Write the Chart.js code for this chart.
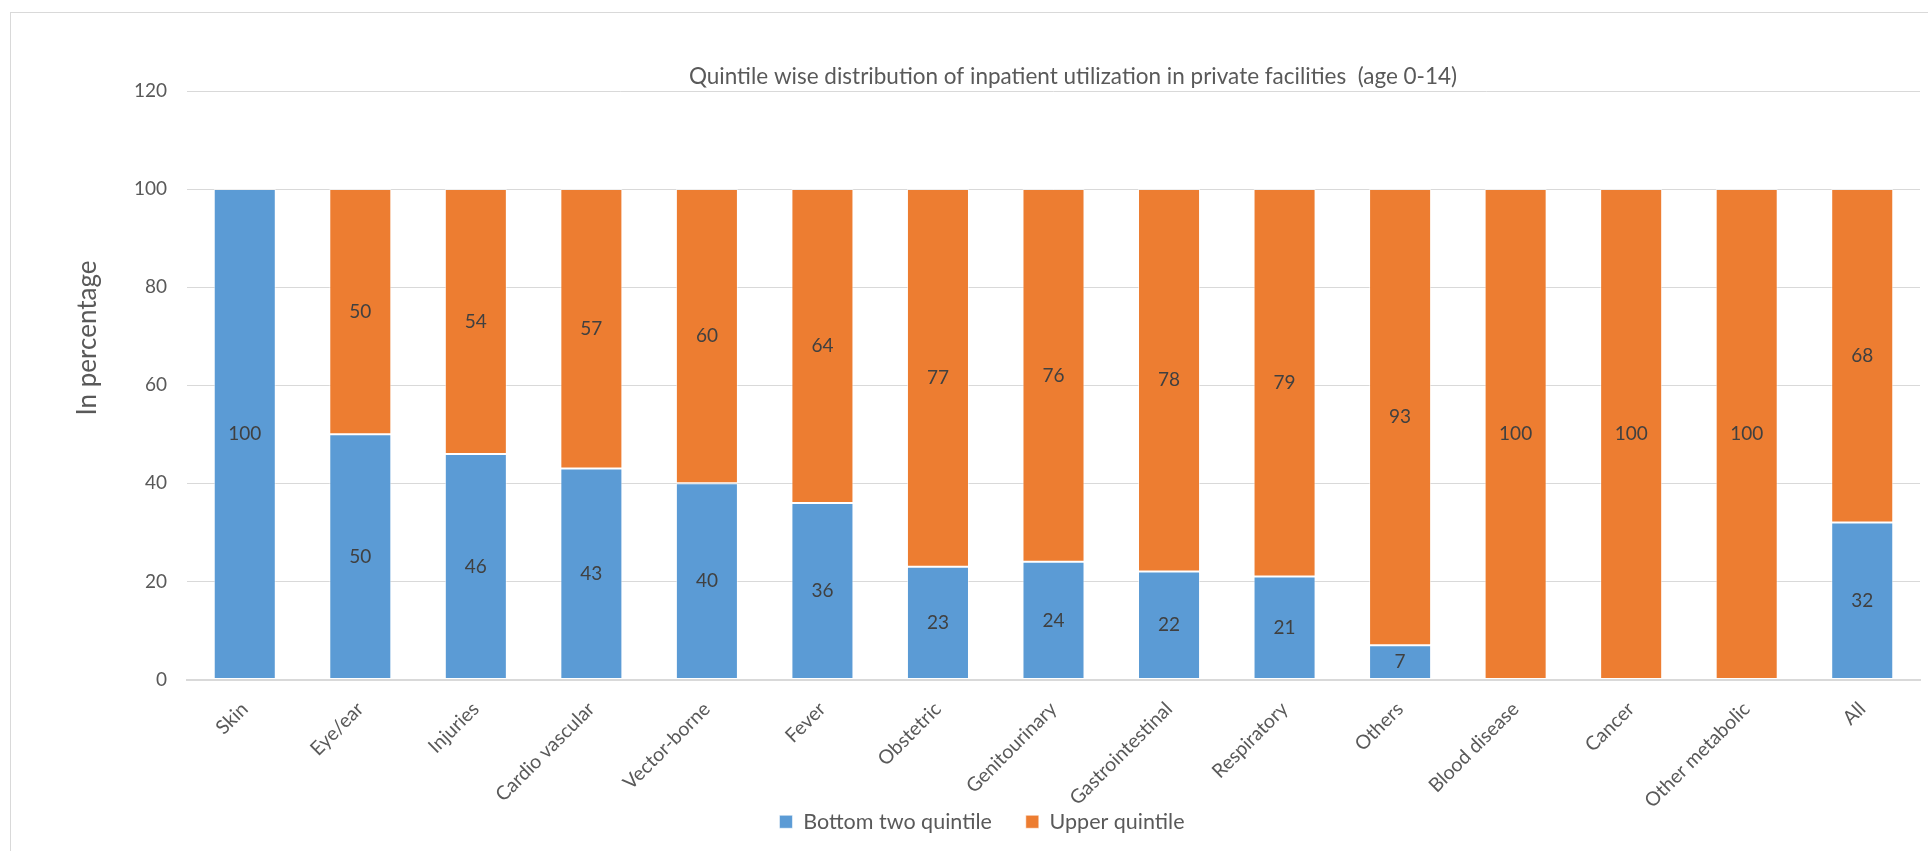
<!DOCTYPE html>
<html>
<head>
<meta charset="utf-8">
<script src="https://cdn.jsdelivr.net/npm/chart.js@4.4.1/dist/chart.umd.min.js"></script>
<style>
  html, body { margin: 0; padding: 0; background: #ffffff; overflow: hidden; }
  #wrap { position: relative; width: 1928px; height: 851px; overflow: hidden; }
  #wrap canvas { position: absolute; left: 0; top: 0; }
  #frame { position: absolute; left: 10px; top: 12px; width: 2400px; height: 1200px;
           border: 1px solid #d9d9d9; pointer-events: none; }
</style>
</head>
<body>
<div id="wrap">
  <canvas id="chart" width="1928" height="851"></canvas>
  <div id="frame"></div>
</div>
<script>
// Disease categories along the x axis
const categories = [
  'Skin', 'Eye/ear', 'Injuries', 'Cardio vascular', 'Vector-borne', 'Fever',
  'Obstetric', 'Genitourinary', 'Gastrointestinal', 'Respiratory', 'Others',
  'Blood disease', 'Cancer', 'Other metabolic', 'All'
];

// Share of inpatient cases (%) by quintile group
const bottomTwoQuintile = [100, 50, 46, 43, 40, 36, 23, 24, 22, 21, 7, 0, 0, 0, 32];
const upperQuintile     = [0, 50, 54, 57, 60, 64, 77, 76, 78, 79, 93, 100, 100, 100, 68];

// Value axis ticks
const yTickValues = [0, 20, 40, 60, 80, 100, 120];

const chartTitle = 'Quintile wise distribution of inpatient utilization in private facilities  (age 0-14)';
const yAxisTitle = 'In percentage';
const seriesNames = ['Bottom two quintile', 'Upper quintile'];

const FONT = 'Lato, "Open Sans", sans-serif';
const TEXT = '#595959';
const LABEL_TEXT = '#404040';
const GRID = '#d9d9d9';

// Moves the title and legend boxes off the canvas centre line,
// and lets the slanted category labels run below the axis box
const boxOffsets = {
  id: 'boxOffsets',
  afterLayout(chart) {
    const t = chart.titleBlock;
    if (t) { t.left += 113; t.right += 113; }
    const lg = chart.legend;
    if (lg) { lg.left += 22; lg.right += 22; lg.top -= 8.5; lg.bottom -= 8.5; }
    const x = chart.scales.x;
    if (x) { x.bottom = chart.height; }
  }
};

// Writes each non-zero segment value in the middle of its bar segment
const segmentLabels = {
  id: 'segmentLabels',
  afterDatasetsDraw(chart) {
    const ctx = chart.ctx;
    ctx.save();
    ctx.font = '19px ' + FONT;
    ctx.fillStyle = LABEL_TEXT;
    ctx.textAlign = 'center';
    ctx.textBaseline = 'middle';
    chart.data.datasets.forEach((ds, i) => {
      const meta = chart.getDatasetMeta(i);
      meta.data.forEach((bar, j) => {
        const v = ds.data[j];
        if (!v) return;
        const p = bar.getProps(['x', 'y', 'base'], true);
        ctx.fillText(String(v), p.x, (p.y + p.base) / 2);
      });
    });
    ctx.restore();
  }
};

// Vertical value-axis title
const valueAxisTitle = {
  id: 'valueAxisTitle',
  afterDraw(chart) {
    const ctx = chart.ctx;
    ctx.save();
    ctx.translate(88, 338);
    ctx.rotate(-Math.PI / 2);
    ctx.font = '26px ' + FONT;
    ctx.fillStyle = TEXT;
    ctx.textAlign = 'center';
    ctx.textBaseline = 'middle';
    ctx.fillText(yAxisTitle, 0, 0);
    ctx.restore();
  }
};

new Chart(document.getElementById('chart'), {
  type: 'bar',
  data: {
    labels: categories,
    datasets: [
      {
        label: seriesNames[0],
        data: bottomTwoQuintile,
        backgroundColor: '#5b9bd5',
        borderColor: 'rgba(255,255,255,0.55)',
        borderWidth: 1,
        borderSkipped: false
      },
      {
        label: seriesNames[1],
        data: upperQuintile,
        backgroundColor: '#ed7d31',
        borderColor: 'rgba(255,255,255,0.55)',
        borderWidth: 1,
        borderSkipped: false
      }
    ]
  },
  options: {
    responsive: false,
    animation: false,
    devicePixelRatio: 1,
    layout: { padding: { top: 0, left: 0, right: 8, bottom: 0 } },
    datasets: { bar: { categoryPercentage: 1, barPercentage: 0.537 } },
    plugins: {
      title: {
        display: true,
        text: chartTitle,
        color: TEXT,
        font: { family: FONT, size: 22.5, weight: 'normal' },
        padding: { top: 63.5, bottom: 0.5 }
      },
      legend: {
        position: 'bottom',
        labels: {
          boxWidth: 13,
          boxHeight: 13,
          padding: 34,
          color: TEXT,
          font: { family: FONT, size: 21.5 }
        }
      },
      tooltip: { enabled: false }
    },
    scales: {
      x: {
        stacked: true,
        grid: { display: false },
        border: { display: true, color: GRID, width: 2 },
        ticks: {
          autoSkip: false,
          minRotation: 45,
          maxRotation: 45,
          padding: 10,
          color: TEXT,
          font: { family: FONT, size: 19.5 }
        },
        afterFit(s) { s.height = 106; }
      },
      y: {
        stacked: true,
        min: 0,
        max: 120,
        afterBuildTicks(s) { s.ticks = yTickValues.map(v => ({ value: v })); },
        grid: { color: GRID, lineWidth: 1, drawTicks: false },
        border: { display: false },
        ticks: {
          padding: 20,
          color: TEXT,
          font: { family: FONT, size: 19 }
        },
        afterFit(s) { s.width = 187; }
      }
    }
  },
  plugins: [boxOffsets, segmentLabels, valueAxisTitle]
});
</script>
</body>
</html>
